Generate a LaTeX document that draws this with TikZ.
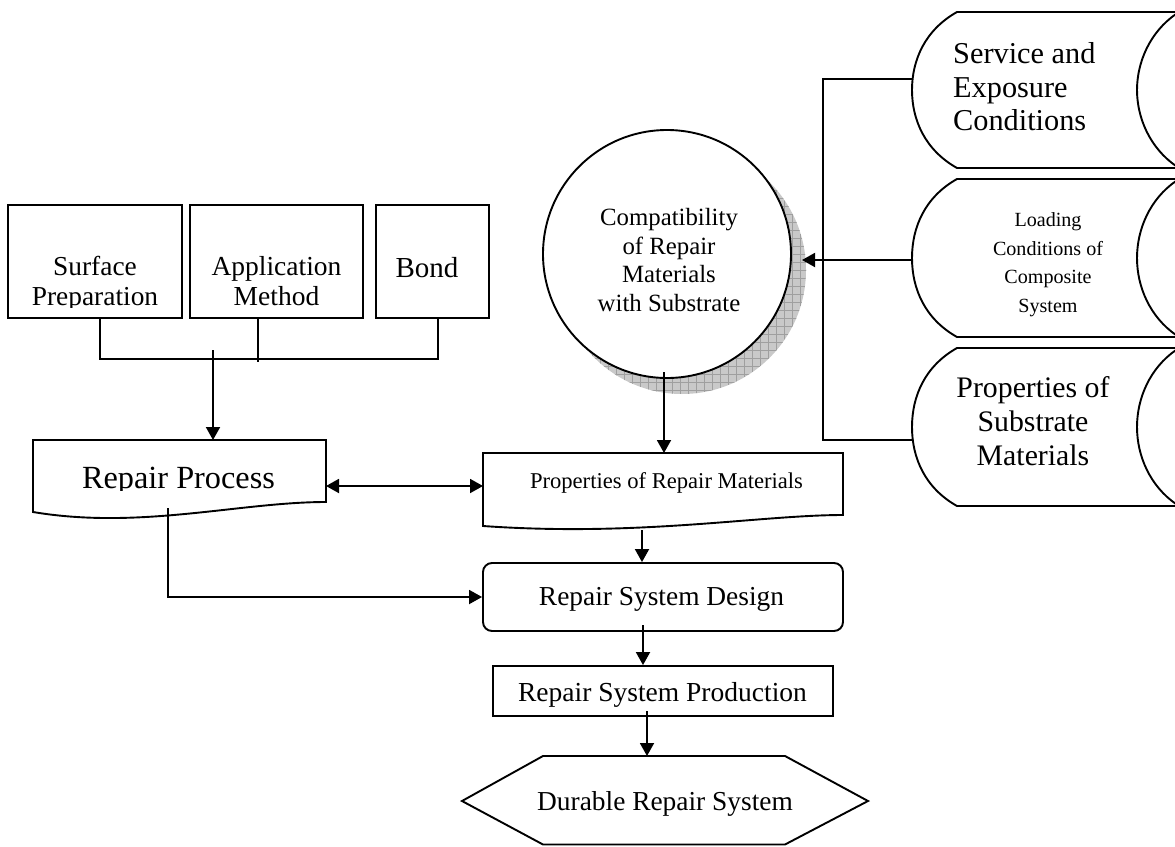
\documentclass[tikz,border=0pt]{standalone}
\usepackage{fontspec}
\setmainfont{Liberation Serif}
\usetikzlibrary{arrows.meta,patterns.meta}
\tikzset{
  shp/.style={draw, line width=1.9pt},
  ln/.style={line width=1.9pt},
  arr/.style={ln, -{Triangle[length=13pt,width=14pt]}},
  darr/.style={ln, {Triangle[length=13pt,width=14pt]}-{Triangle[length=13pt,width=14pt]}},
  txt/.style={inner sep=0pt, align=center},
  ghost/.style={inner sep=0pt, outer sep=0pt},
}
\newcommand\fs[2]{\fontsize{#1}{#2}\selectfont}
\newcommand\mydrum[2]{%
  \draw[shp, fill=white] (957,#1) -- (1180,#1) -- (1180,#2) -- (957,#2)
    .. controls (925,{#2-18}) and (912,{#2-48}) .. (912,{(#1+#2)/2})
    .. controls (912,{#1+48}) and (925,{#1+18}) .. (957,#1) -- cycle;
  \draw[shp] (1176,{#1+2}) .. controls (1150,{#1+20}) and (1137,{#1+50}) .. (1137,{(#1+#2)/2})
    .. controls (1137,{#2-50}) and (1150,{#2-20}) .. (1176,{#2-2});}
\begin{document}
\begin{tikzpicture}[x=1pt,y=-1pt]
\useasboundingbox (0,0) rectangle (1175,846);
\clip (0,0) rectangle (1175,846);

% ---------- top-left boxes ----------
\node[shp, minimum width=174pt, minimum height=113pt, inner sep=0pt] (surf) at (95,261.5) {};
\node[shp, minimum width=173pt, minimum height=113pt, inner sep=0pt] (appl) at (276.5,261.5) {};
\node[shp, minimum width=113pt, minimum height=113pt, inner sep=0pt] (bond) at (432.5,261.5) {};
\begin{scope}
  \clip (8,205) rectangle (182,307);
  \node[txt, anchor=north, font=\fs{27.4}{30}] (surft) at (95,256.3) {Surface\\Preparation};
\end{scope}
\node[txt, anchor=north, font=\fs{27.5}{30}] (applt) at (276.5,256.2) {Application\\Method};
\node[txt, anchor=base, font=\fs{29}{32}] (bondt) at (427,277) {Bond};

% ---------- Repair Process (document shape) ----------
\node[ghost, minimum width=293pt, minimum height=62pt] (rproc) at (179.5,471) {};
\draw[shp] (33,440) -- (326,440) -- (326,502)
  .. controls (240,502) and (140,530) .. (33,512) -- cycle;
\begin{scope}
  \clip (33,440) rectangle (326,490.5);
  \node[txt, anchor=base, font=\fs{32.3}{36}] (rprot) at (178.5,488) {Repair Process};
\end{scope}

% ---------- Properties of Repair Materials (document shape) ----------
\node[ghost, minimum width=360pt, minimum height=62pt] (prm) at (663,484) {};
\draw[shp] (483,453) -- (843,453) -- (843,515)
  .. controls (760,515) and (640,537) .. (483,526) -- cycle;
\node[txt, anchor=base, font=\fs{22.6}{26}] (prmt) at (666.5,488) {Properties of Repair Materials};

% ---------- Repair System Design ----------
\node[shp, rounded corners=9pt, minimum width=360pt, minimum height=68pt, inner sep=0pt] (design) at (663,597) {};
\node[txt, anchor=base, font=\fs{27.4}{30}] (designt) at (661.5,605) {Repair System Design};

% ---------- Repair System Production ----------
\node[shp, minimum width=340pt, minimum height=50pt, inner sep=0pt] (prod) at (663,691) {};
\node[txt, anchor=base, font=\fs{27.5}{30}] (prodt) at (662.5,701) {Repair System Production};

% ---------- Durable Repair System (hexagon) ----------
\draw[shp] (543,756) -- (785,756) -- (868,801) -- (785,844.5) -- (543,844.5) -- (462,801) -- cycle;
\node[txt, anchor=base, font=\fs{27.4}{30}] (hext) at (665,810) {Durable Repair System};

% ---------- circle with shadow ----------
\fill[gray!42] (682,270) circle[radius=124pt];
\fill[pattern={Hatch[angle=0, distance=8pt, line width=0.5pt]}, pattern color=gray!75] (682,270) circle[radius=124pt];
\node[shp, circle, fill=white, minimum size=248pt, inner sep=0pt] (comp) at (667,254) {};
\node[txt, anchor=north, font=\fs{24.8}{28.5}] (compt) at (669,208.1) {Compatibility\\of Repair\\Materials\\with Substrate};

% ---------- drums ----------
\mydrum{12}{168}
\mydrum{179}{337}
\mydrum{348}{506}
\node[inner sep=0pt, align=left, anchor=north west, font=\fs{30.3}{33.5}] (servt) at (953,42.3) {Service and\\Exposure\\Conditions};
\node[txt, anchor=north, font=\fs{20.1}{28.7}] (loadt) at (1048,212.3) {Loading\\Conditions of\\Composite\\System};
\node[txt, anchor=north, font=\fs{29.8}{34}] (subt) at (1033,376.6) {Properties of\\Substrate\\Materials};

% ---------- connectors ----------
\coordinate (j1) at (100,359);
\coordinate (j2) at (258,362);
\coordinate (j3) at (438,359);
\coordinate (jA) at (213,350);
\draw[ln] (surf.south -| j1) -- (j1) -- (j3) -- (bond.south -| j3);
\draw[ln] (appl.south -| j2) -- (j2);
\draw[arr] (jA) -- (jA |- rproc.north);

\coordinate (rpE) at (326,486);
\coordinate (prW) at (483,486);
\draw[darr] (rpE) -- (prW);

\coordinate (rpS) at (168,508);
\draw[arr] (rpS) |- (design.west);

\coordinate (cS) at (664,372);
\draw[arr] (cS) -- (cS |- prm.north);

\coordinate (prS) at (642,530);
\draw[arr] (prS) -- (prS |- design.north);

\coordinate (dS) at (643,625);
\draw[arr] (dS) -- (dS |- prod.north);

\coordinate (pS) at (647,711);
\coordinate (hexN) at (647,756);
\draw[arr] (pS) -- (hexN);

\coordinate (d1) at (912.5,79);
\coordinate (d2) at (912,260);
\coordinate (d3) at (912.5,440);
\coordinate (bk1) at (823,79);
\coordinate (bk3) at (823,440);
\coordinate (shE) at (802,260);
\draw[ln] (d1) -- (bk1) -- (bk3) -- (d3);
\draw[arr] (d2) -- (shE);
\end{tikzpicture}
\end{document}
